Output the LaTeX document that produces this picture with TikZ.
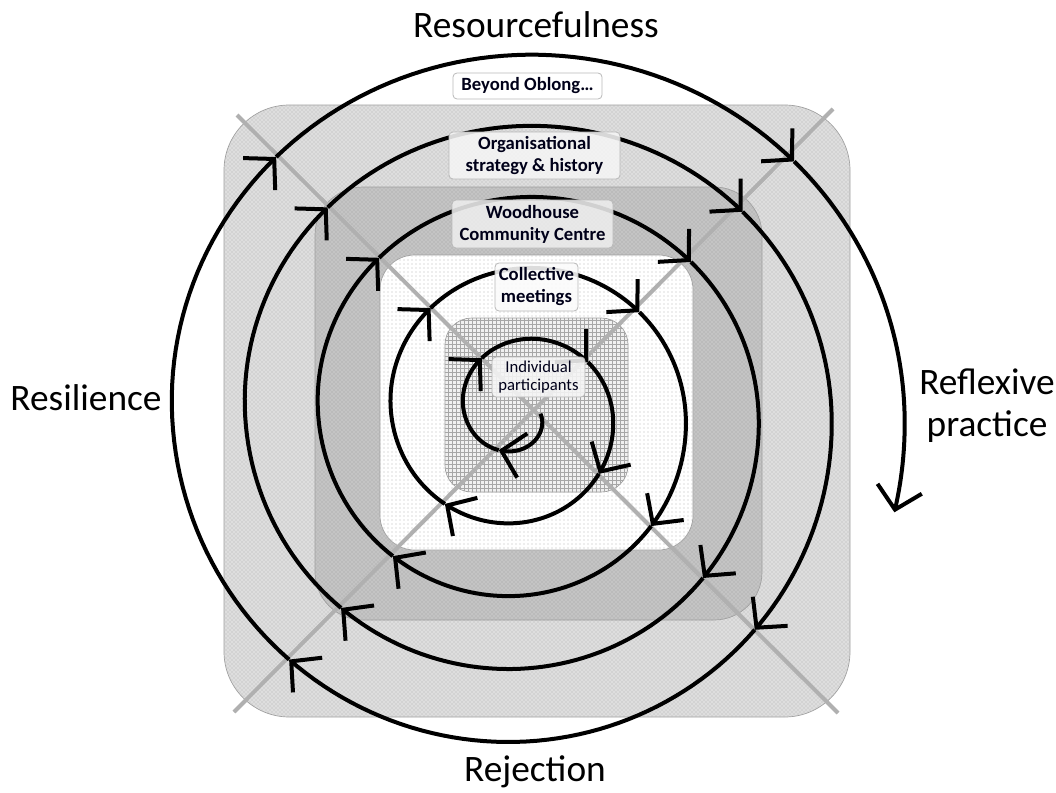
\documentclass[tikz,border=0pt]{standalone}
\usepackage{fontspec}
\setmainfont{Carlito}
\usetikzlibrary{arrows.meta, patterns}

\begin{document}
\begin{tikzpicture}[x=0.75pt, y=-0.75pt,
                    lbl/.style = {font=\fontsize{28}{31.5}\selectfont, align=center, inner sep=0pt},
                    tag/.style = {draw=gray!55, line width=0.6pt, rounded corners=3pt, align=center, inner sep=0pt,
                                  fill opacity=0.88, text opacity=1, text=black!90!blue,
                                  font=\bfseries\fontsize{14}{16.5}\selectfont},
                    ring/.style = {draw=gray!75, line width=0.5pt},
                    cross/.style = {draw=gray!62, line width=3pt},
                    turn/.style = {line width=3pt, -{Straight Barb[length=16pt, width=34pt]}}]
    \useasboundingbox (0,0) rectangle (1056,792);

    \draw[ring, fill=gray!26, postaction={pattern=crosshatch dots, pattern color=gray!60}, rounded corners=49pt] (224,105) rectangle (850,717);
    \draw[ring, fill=gray!46, postaction={pattern=crosshatch dots, pattern color=gray!75}, rounded corners=36pt] (315,187) rectangle (762,620);
    \draw[ring, fill=white, postaction={pattern=dots, pattern color=gray!55}, rounded corners=26pt] (380,255) rectangle (693,550);
    \draw[ring, fill=gray!12, postaction={pattern=grid, pattern color=gray!70}, rounded corners=20pt] (445,318) rectangle (628,492);

    \coordinate (tl) at (237,115);
    \coordinate (br) at (838,713);
    \coordinate (tr) at (833,109);
    \coordinate (bl) at (234,712);
    \draw[cross] (tl) -- (br);
    \draw[cross] (tr) -- (bl);

    \foreach \a/\b in {5/119.1, 119.1/235.3, 235.3/323.1, 323.1/398.1, 398.1/489.25, 489.25/590,
                       590/679.4, 679.4/761, 761/851.4, 851.4/948.3, 948.3/1038, 1038/1122.2,
                       1122.2/1212.4, 1212.4/1307.5, 1307.5/1397.3, 1397.3/1482.85, 1482.85/1573,
                       1573/1667, 1667/1756.85, 1756.85/1815}
        \draw[turn] plot[domain=\a:\b, samples=50, variable=\t]
            ({520+(19.5+0.2028*\t)*cos(\t)}, {412+(19.5+0.2028*\t)*(sin(\t)+0.025*max(0,-sin(\t)))});

    \node[tag, fill=white, fill opacity=1, minimum width=111.75pt, minimum height=19.5pt] (beyond) at (527.5,86) {Beyond Oblong…};
    \node[tag, fill=gray!8, minimum width=128.25pt, minimum height=35.25pt] (organ) at (534.5,155.5) {Organisational\\strategy \& history};
    \node[tag, fill=gray!14, minimum width=120.75pt, minimum height=36pt] (woodh) at (532.5,224) {Woodhouse\\Community Centre};
    \node[tag, fill=gray!3, minimum width=62.25pt, minimum height=36pt] (collect) at (536.5,287) {Collective\\meetings};
    \node[tag, fill=gray!8, minimum width=69.75pt, minimum height=30pt,
          font=\fontsize{12.5}{14}\selectfont] (indiv) at (538.5,377) {Individual\\participants};

    \node[lbl, anchor=base] (resource) at (536,38) {Resourcefulness};
    \node[lbl, anchor=base] (reject) at (535,781) {Rejection};
    \node[lbl, anchor=base] (resil) at (86,410) {Resilience};
    \node[lbl] (reflex) at (987,406) {Reflexive\\practice};
\end{tikzpicture}
\end{document}
